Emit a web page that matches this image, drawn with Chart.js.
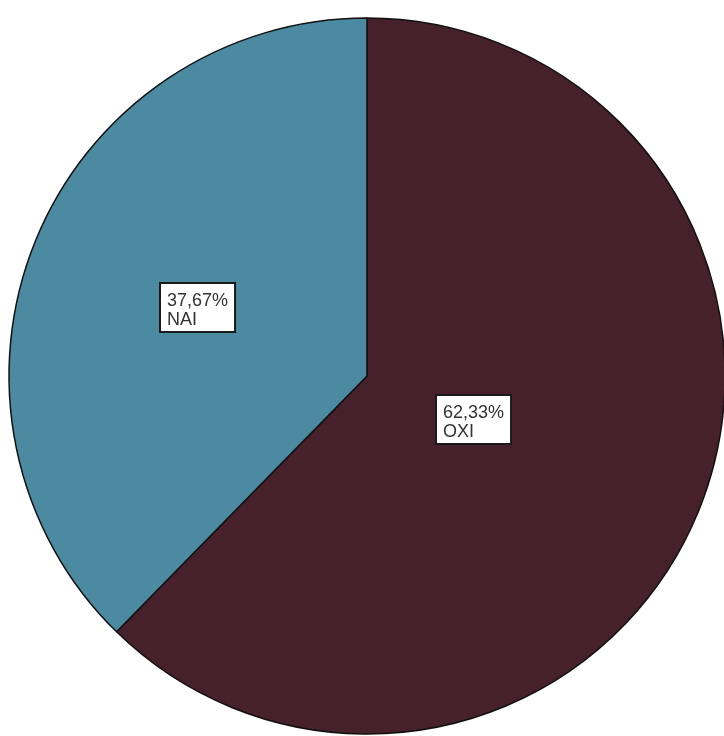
<!DOCTYPE html>
<html>
<head>
<meta charset="utf-8">
<script src="https://cdn.jsdelivr.net/npm/chart.js@4/dist/chart.umd.min.js"></script>
<style>
  html, body { margin: 0; padding: 0; background: #fff; }
  #wrap { width: 724px; height: 736px; }
</style>
</head>
<body>
<div id="wrap"><canvas id="pie" width="724" height="736"></canvas></div>
<script>
const categories = ['OXI', 'NAI'];
const percentages = [62.33, 37.67];
const sliceColors = ['#46202a', '#4b8aa1'];

// radial position of each label box, as a fraction of the radius
const labelDist = [0.32, 0.51];

const boxLabels = {
  id: 'boxLabels',
  afterDatasetsDraw(chart) {
    const ctx = chart.ctx;
    const meta = chart.getDatasetMeta(0);
    ctx.save();
    ctx.font = '18px "Liberation Sans", Arial, sans-serif';
    meta.data.forEach((arc, i) => {
      const p = arc.getProps(['x', 'y', 'startAngle', 'endAngle', 'outerRadius'], true);
      const mid = (p.startAngle + p.endAngle) / 2;
      const cx = p.x + Math.cos(mid) * p.outerRadius * labelDist[i];
      const cy = p.y + Math.sin(mid) * p.outerRadius * labelDist[i];
      const line1 = percentages[i].toFixed(2).replace('.', ',') + '%';
      const line2 = categories[i];
      const w = Math.max(ctx.measureText(line1).width, ctx.measureText(line2).width) + 14;
      const h = 49;
      const left = Math.round(cx - w / 2), top = Math.round(cy - h / 2);
      ctx.fillStyle = '#fff';
      ctx.fillRect(left, top, w, h);
      ctx.strokeStyle = '#1a1a1a';
      ctx.lineWidth = 2;
      ctx.strokeRect(left, top, w, h);
      ctx.fillStyle = '#333';
      ctx.textBaseline = 'alphabetic';
      ctx.fillText(line1, left + 7, top + 22.5);
      ctx.fillText(line2, left + 7, top + 42);
    });
    ctx.restore();
  }
};

new Chart(document.getElementById('pie').getContext('2d'), {
  type: 'pie',
  data: {
    labels: categories,
    datasets: [{
      data: percentages,
      backgroundColor: sliceColors,
      borderColor: '#111',
      borderWidth: 1.5
    }]
  },
  options: {
    responsive: false,
    animation: false,
    radius: 358,
    layout: { padding: { left: 10, right: 0, top: 16, bottom: 0 } },
    plugins: {
      legend: { display: false },
      tooltip: { enabled: false }
    }
  },
  plugins: [boxLabels]
});
</script>
</body>
</html>
